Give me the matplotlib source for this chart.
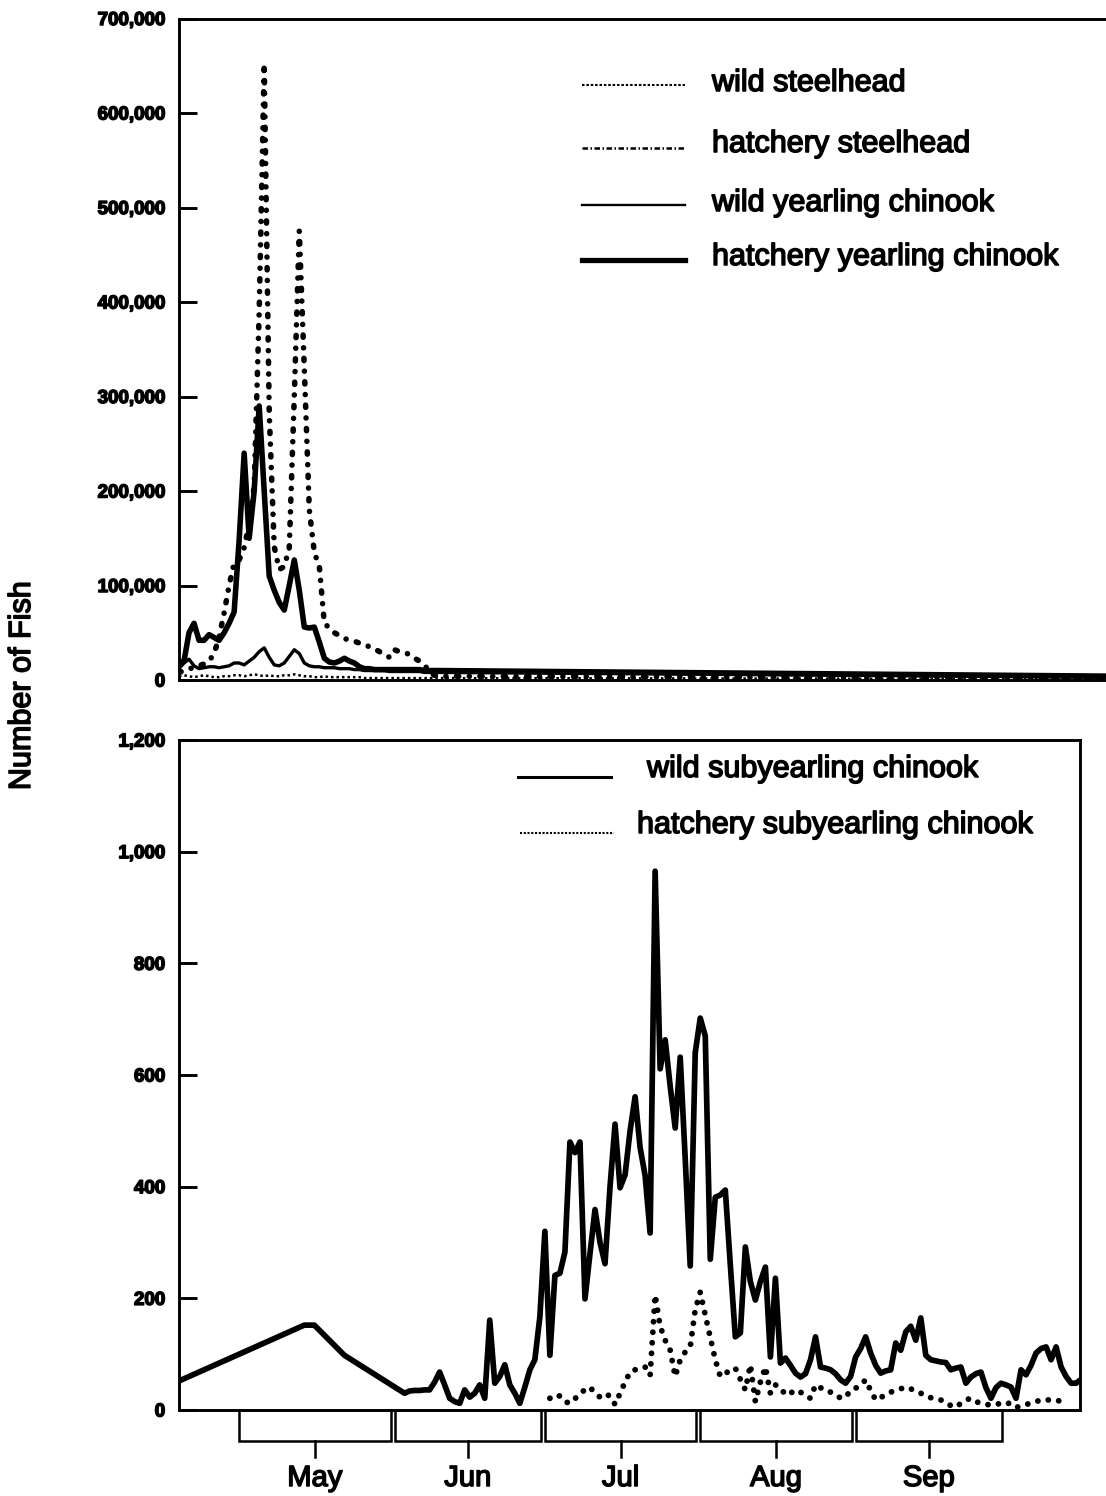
import numpy as np
import matplotlib
matplotlib.use("Agg")
import matplotlib.pyplot as plt
from matplotlib import transforms
from matplotlib import patheffects
from matplotlib.lines import Line2D
from matplotlib.patches import Rectangle
from matplotlib.ticker import FuncFormatter, MultipleLocator

plt.rcParams['font.family'] = ['Liberation Sans', 'DejaVu Sans']

# ---------------------------------------------------------------------------
# Data: day 0 = 1 May.  Upper panel values are in thousands of fish.
# ---------------------------------------------------------------------------
yearling_days = list(range(-12, 41)) + [175]

wild_steelhead = [4, 5, 4, 3, 4, 5, 4, 3, 3, 4, 4, 5,
                  5, 4, 5, 6, 5, 4, 5, 4, 4, 5,
                  5, 6, 5, 4, 4, 3, 3, 4, 3, 3,
                  3, 3, 3, 3, 3, 2, 2, 2, 2, 2,
                  2, 2, 2, 2, 2, 2, 2, 2, 2, 2,
                  2, 1]

hatchery_steelhead = [8, 10, 12, 13, 15, 17, 20, 28, 45, 71, 100, 124,
                      127, 140, 165, 205, 390, 652, 283, 141, 117, 120,
                      140, 300, 475, 330, 180, 135, 120, 60, 55, 50,
                      47, 44, 42, 41, 39, 38, 35, 33, 30, 27,
                      24, 32, 30, 29, 27, 23, 20, 16, 8, 5,
                      4, 2]

wild_yearling_chinook = [12, 18, 22, 15, 12, 13, 14, 14, 13, 14, 15, 18,
                         18, 16, 20, 24, 30, 34, 24, 16, 15, 18,
                         25, 32, 28, 18, 15, 14, 14, 13, 13, 13,
                         12, 12, 12, 11, 11, 10, 10, 10, 10, 10,
                         9, 9, 9, 9, 9, 9, 9, 8, 8, 8,
                         8, 3]

hatchery_yearling_chinook = [18, 20, 50, 60, 42, 42, 48, 45, 42, 50, 60, 72,
                             148, 240, 150, 200, 290, 200, 110, 95, 82, 74,
                             100, 127, 95, 56, 55, 56, 40, 23, 19, 18,
                             20, 23, 20, 18, 14, 12, 12, 11, 11, 11,
                             11, 11, 11, 11, 11, 11, 11, 10, 10, 10,
                             10, 4]

wild_sub_days = [-12, 13, 15, 21] + list(range(33, 169))
wild_subyearling = [52, 152, 152, 98,
                    30, 34, 35, 35, 36, 36, 50, 68, 45, 21,
                    15, 12, 36, 23, 30, 45, 21, 161, 48, 60,
                    81, 45, 30, 12, 41, 72, 90, 167, 320, 98,
                    241, 245, 283, 480, 461, 480, 199, 280, 359, 300,
                    262, 400, 512, 398, 421, 500, 561, 470, 420, 317,
                    965, 611, 663, 580, 505, 632, 450, 258, 640, 702,
                    670, 270, 381, 385, 394, 260, 131, 138, 292, 230,
                    197, 230, 256, 95, 236, 84, 93, 80, 66, 59,
                    65, 90, 131, 77, 75, 72, 65, 54, 48, 60,
                    95, 110, 131, 102, 80, 66, 70, 72, 120, 107,
                    140, 150, 125, 165, 98, 90, 88, 86, 85, 72,
                    75, 77, 48, 59, 65, 68, 40, 21, 40, 48,
                    45, 41, 21, 72, 63, 80, 102, 110, 113, 90,
                    113, 77, 60, 48, 48, 55]

hatchery_sub_days = list(range(62, 166))
hatchery_subyearling = [21, 27, 25, 15, 12, 20, 30, 36, 41, 30,
                        23, 29, 25, 10, 30, 50, 68, 72, 75, 77,
                        62, 206, 150, 125, 107, 60, 90, 104, 113, 180,
                        211, 170, 130, 90, 60, 65, 72, 75, 55, 36,
                        81, 15, 50, 77, 30, 45, 40, 27, 30, 36,
                        32, 25, 21, 45, 40, 34, 32, 28, 21, 23,
                        35, 39, 45, 54, 35, 18, 22, 28, 32, 35,
                        38, 41, 38, 33, 30, 25, 22, 20, 18, 12,
                        8, 5, 12, 18, 21, 15, 12, 10, 9, 10,
                        12, 14, 10, 4, 8, 10, 12, 15, 18, 18,
                        18, 18, 15, 5]

month_names = ['May', 'Jun', 'Jul', 'Aug', 'Sep']
month_starts = [0, 31, 61, 92, 123, 153]

# ---------------------------------------------------------------------------
W, H = 1106, 1496
fig = plt.figure(figsize=(W / 100, H / 100), dpi=100)


def fx(px):
    return px / W


def fy(py):
    return 1 - py / H


thick = [patheffects.withStroke(linewidth=1.1, foreground='black')]
SPINE_W = 2.1

ax_top = fig.add_axes([fx(179), fy(680), fx(1112) - fx(179), fy(18.5) - fy(680)])
ax_bot = fig.add_axes([fx(179), fy(1410), fx(1080) - fx(179), fy(740) - fy(1410)])

comma_fmt = FuncFormatter(lambda v, p: f"{v:,.0f}")

# --- upper panel: steelhead and yearling chinook -------------------------
d = np.array(yearling_days)
k = 1000.0
ax_top.plot(d, np.array(wild_steelhead) * k, color='black', lw=1.8,
            linestyle=(0, (1.0, 1.2)))
ax_top.plot(d, np.array(hatchery_steelhead) * k, color='black', lw=4.0,
            linestyle=(0, (0.4, 1.9, 0.01, 1.9)), dash_capstyle='round')
ax_top.plot(d, np.array(wild_yearling_chinook) * k, color='black', lw=2.4)
ax_top.plot(d, np.array(hatchery_yearling_chinook) * k, color='black', lw=4.0,
            solid_joinstyle='round')

ax_top.set_xlim(-12, (1112 - 179) / 5.012 - 12)
ax_top.set_ylim(0, 700000)
ax_top.yaxis.set_major_locator(MultipleLocator(100000))
ax_top.yaxis.set_major_formatter(comma_fmt)
ax_top.tick_params(axis='y', direction='in', length=13, width=SPINE_W, pad=10,
                   labelsize=13.5)
ax_top.tick_params(axis='x', bottom=False, labelbottom=False)
ax_top.spines['right'].set_visible(False)
for s in ('left', 'top', 'bottom'):
    ax_top.spines[s].set_linewidth(SPINE_W)

# --- lower panel: subyearling chinook ------------------------------------
ax_bot.plot(wild_sub_days, wild_subyearling, color='black', lw=4.1,
            solid_joinstyle='round')
ax_bot.plot(hatchery_sub_days, hatchery_subyearling, color='black', lw=4.2,
            linestyle=(0, (0.01, 1.8)), dash_capstyle='round')

ax_bot.set_xlim(-12, (1080 - 179) / 5.012 - 12)
ax_bot.set_ylim(0, 1200)
ax_bot.yaxis.set_major_locator(MultipleLocator(200))
ax_bot.yaxis.set_major_formatter(comma_fmt)
ax_bot.tick_params(axis='y', direction='in', length=13, width=SPINE_W, pad=10,
                   labelsize=13.5)
ax_bot.tick_params(axis='x', bottom=False, labelbottom=False)
for s in ax_bot.spines.values():
    s.set_linewidth(SPINE_W)

for ax in (ax_top, ax_bot):
    for lab in ax.get_yticklabels():
        lab.set_fontweight('bold')
        lab.set_path_effects(thick)

# month boxes below the lower panel
trans = transforms.blended_transform_factory(ax_bot.transData, ax_bot.transAxes)
box_h = 31 / 670
tick_len = 16 / 670
for i, name in enumerate(month_names):
    s = month_starts[i]
    e = month_starts[i + 1] - 0.8
    ax_bot.add_patch(Rectangle((s, -box_h), e - s, box_h, transform=trans,
                               fill=False, lw=1.8, edgecolor='black',
                               clip_on=False))
    mid = (s + e) / 2
    ax_bot.add_line(Line2D([mid, mid], [-box_h, -box_h - tick_len],
                           transform=trans, color='black', lw=1.8,
                           clip_on=False))
    ax_bot.text(mid, -68 / 670, name, transform=trans, ha='center',
                va='center', fontsize=21, path_effects=thick)

# --- legends ---------------------------------------------------------------
top_entries = [
    ('wild steelhead', 91, 85, dict(lw=1.5, linestyle=(0, (1.2, 0.9)))),
    ('hatchery steelhead', 152, 148, dict(lw=1.8, linestyle=(0, (2.2, 1.0, 0.6, 1.0)))),
    ('wild yearling chinook', 211, 205, dict(lw=1.7)),
    ('hatchery yearling chinook', 265, 260, dict(lw=3.8)),
]
for label, base, hy, style in top_entries:
    fig.add_artist(Line2D([fx(582), fx(685)], [fy(hy), fy(hy)],
                          color='black', **style))
    fig.text(fx(712), fy(base), label, ha='left', va='baseline', fontsize=22,
             path_effects=thick)

bot_entries = [
    ('wild subyearling chinook', 647, 777, 518, 611, 777, dict(lw=2.2)),
    ('hatchery subyearling chinook', 637, 833, 520, 614, 833,
     dict(lw=1.5, linestyle=(0, (1.0, 0.8)))),
]
for label, tx, base, x0, x1, hy, style in bot_entries:
    fig.add_artist(Line2D([fx(x0), fx(x1)], [fy(hy), fy(hy)],
                          color='black', **style))
    fig.text(fx(tx), fy(base), label, ha='left', va='baseline', fontsize=22,
             path_effects=thick)

fig.text(fx(22), fy(686), 'Number of Fish', rotation=90, ha='center',
         va='center', fontsize=22, path_effects=thick)

fig.savefig('out.png', dpi=100, facecolor='white')
